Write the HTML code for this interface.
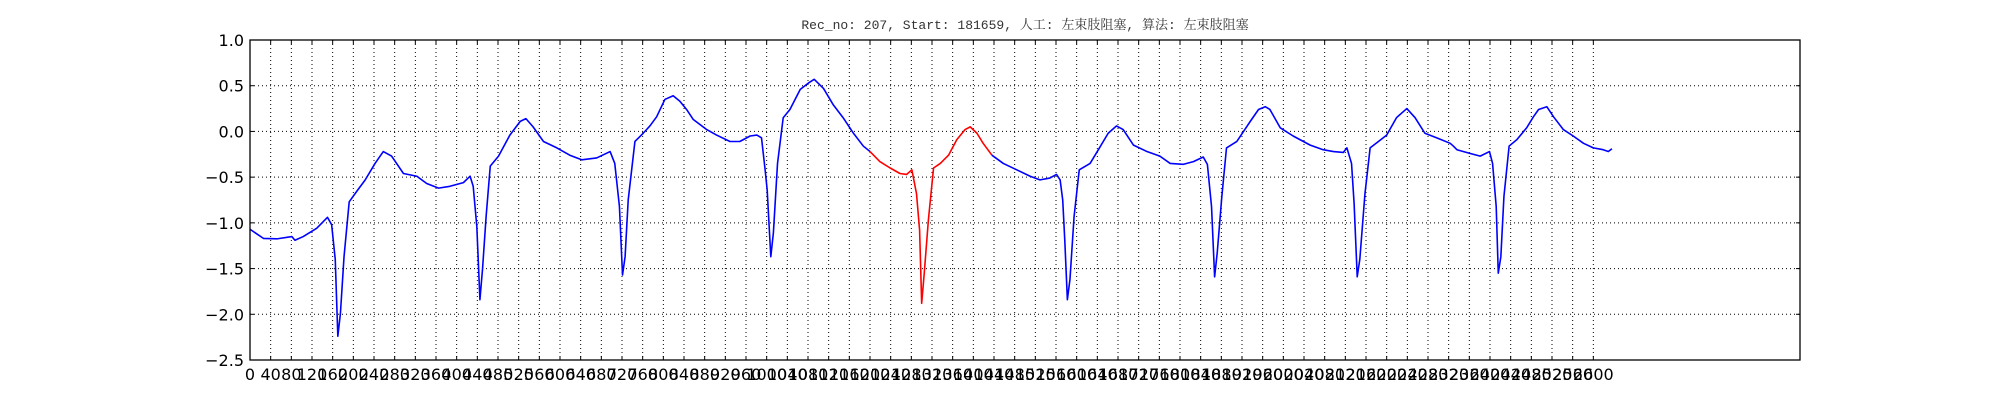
<!DOCTYPE html>
<html><head><meta charset="utf-8"><style>
body{margin:0;background:#fff;}
svg{display:block;}
</style></head><body>
<svg id="chart" width="2000" height="400" xmlns="http://www.w3.org/2000/svg">
<rect x="0" y="0" width="2000" height="400" fill="#fff"/>
<text x="1025" y="29" text-anchor="middle" font-family="'Liberation Mono','Noto Serif CJK SC',monospace" font-size="13" fill="#333">Rec_no: 207, Start: 181659, 人工: 左束肢阻塞, 算法: 左束肢阻塞</text>
<g id="grid"></g>
<g id="series"></g>
<rect x="250" y="40" width="1550" height="320" fill="none" stroke="#000" stroke-width="1.3"/>
<g id="axes"></g>
</svg>
<script>
const xTicks = [];
for (let t = 0; t <= 2600; t += 40) xTicks.push(t);
const yTicks = [1.0, 0.5, 0.0, -0.5, -1.0, -1.5, -2.0, -2.5];
const yTickLabels = ["1.0","0.5","0.0","\u22120.5","\u22121.0","\u22121.5","\u22122.0","\u22122.5"];
const sampleIdx = [0,26,52,81,87,103,129,150,158,165,170,175,182,192,206,223,242,258,274,297,323,342,365,387,413,426,432,439,445,450,457,465,481,503,523,534,548,568,594,619,642,671,697,706,715,721,726,732,745,761,774,
787,803,819,832,845,858,884,903,929,948,968,981,990,997,1001,1008,1013,1021,1032,1045,1065,1081,1092,1110,1129,1148,1168,1187,1200,1219,1239,1258,1271,1281,1290,1296,1300,1305,1313,1323,1336,1352,1368,1384,1394,1407,1419,1436,1458,1484,1510,1529,1548,
1561,1568,1573,1577,1582,1587,1595,1605,1626,1642,1661,1677,1690,1710,1736,1761,1781,1806,1826,1845,1853,1861,1867,1872,1881,1890,1910,1936,1952,1965,1974,1994,2019,2052,2077,2097,2116,2123,2132,2137,2143,2148,2158,2168,2184,2200,2219,2239,2255,2274,2297,2323,
2329,2336,2361,2381,2399,2405,2412,2416,2421,2427,2437,2452,2471,2484,2494,2510,2523,2542,2561,2581,2600,2619,2629,2636];
const ecgValues = [-1.07,-1.17,-1.175,-1.15,-1.19,-1.15,-1.06,-0.94,-1.02,-1.40,-2.24,-1.99,-1.37,-0.77,-0.66,-0.53,-0.35,-0.22,-0.27,-0.46,-0.49,-0.57,-0.62,-0.60,-0.56,-0.49,-0.60,-1.04,-1.84,-1.51,-0.93,-0.38,-0.27,-0.04,0.11,0.14,0.05,-0.11,-0.18,-0.26,-0.31,-0.29,-0.22,-0.35,-0.82,-1.57,-1.37,-0.75,-0.11,-0.02,0.06,
0.16,0.35,0.39,0.33,0.24,0.13,0.02,-0.04,-0.11,-0.11,-0.05,-0.04,-0.07,-0.42,-0.64,-1.37,-1.11,-0.35,0.15,0.24,0.46,0.53,0.57,0.47,0.29,0.15,-0.02,-0.16,-0.22,-0.33,-0.40,-0.46,-0.47,-0.42,-0.68,-1.08,-1.88,-1.55,-0.97,-0.40,-0.35,-0.26,-0.09,0.02,0.05,-0.02,-0.13,-0.26,-0.35,-0.42,-0.49,-0.53,-0.51,
-0.47,-0.53,-0.75,-1.19,-1.84,-1.62,-0.93,-0.42,-0.35,-0.20,-0.02,0.06,0.02,-0.15,-0.22,-0.27,-0.35,-0.36,-0.33,-0.28,-0.36,-0.82,-1.59,-1.33,-0.71,-0.18,-0.11,0.11,0.24,0.27,0.24,0.04,-0.05,-0.15,-0.20,-0.22,-0.23,-0.18,-0.35,-0.79,-1.59,-1.40,-0.68,-0.18,-0.11,-0.04,0.15,0.25,0.15,-0.02,-0.07,-0.13,
-0.16,-0.20,-0.24,-0.27,-0.22,-0.35,-0.82,-1.55,-1.37,-0.71,-0.16,-0.09,0.04,0.16,0.24,0.27,0.16,0.02,-0.05,-0.13,-0.18,-0.20,-0.22,-0.19];
const redStart = 1200, redEnd = 1436;

const X0=250, X1=1800, Y0=40, Y1=360, XMAX=3000, YMIN=-2.5, YMAX=1.0;
const sx = v => X0 + v/XMAX*(X1-X0);
const sy = v => Y1 - (v-YMIN)/(YMAX-YMIN)*(Y1-Y0);
const NS="http://www.w3.org/2000/svg";
const grid=document.getElementById('grid'), axes=document.getElementById('axes'), series=document.getElementById('series');
function mk(tag, parent){const e=document.createElementNS(NS,tag);parent.appendChild(e);return e;}

xTicks.forEach(t=>{
  const x=sx(t);
  if(t>0){const g=mk('line',grid);
  
  
  g.setAttribute('x1',x);g.setAttribute('x2',x);g.setAttribute('y1',Y0);g.setAttribute('y2',Y1);
  g.setAttribute('stroke','#000');g.setAttribute('stroke-width','1');g.setAttribute('stroke-dasharray','1,3');}
  [[Y1,Y1-4],[Y0,Y0+4]].forEach(p=>{const m=mk('line',axes);
  
  
  m.setAttribute('x1',x);m.setAttribute('x2',x);m.setAttribute('y1',p[0]);m.setAttribute('y2',p[1]);m.setAttribute('stroke','#000');});
  const l=mk('text',axes);
  
  
  l.setAttribute('x',x);l.setAttribute('y',380);l.setAttribute('text-anchor','middle');
  l.setAttribute('font-family','"DejaVu Sans","Liberation Sans",sans-serif');l.setAttribute('font-size','16');
  l.textContent=String(t);
});
yTicks.forEach((t,i)=>{
  const y=sy(t);
  if(t<YMAX && t>YMIN){const g=mk('line',grid);
  
  
  g.setAttribute('x1',X0);g.setAttribute('x2',X1);g.setAttribute('y1',y);g.setAttribute('y2',y);
  g.setAttribute('stroke','#000');g.setAttribute('stroke-width','1');g.setAttribute('stroke-dasharray','1,3');}
  [[X0,X0+4],[X1,X1-4]].forEach(p=>{const m=mk('line',axes);
  
  
  m.setAttribute('x1',p[0]);m.setAttribute('x2',p[1]);m.setAttribute('y1',y);m.setAttribute('y2',y);m.setAttribute('stroke','#000');});
  const l=mk('text',axes);
  
  
  l.setAttribute('x',244);l.setAttribute('y',y+6);l.setAttribute('text-anchor','end');
  l.setAttribute('font-family','"DejaVu Sans","Liberation Sans",sans-serif');l.setAttribute('font-size','16');
  l.textContent=yTickLabels[i];
});

function seg(filter){
  const pts=[];
  sampleIdx.forEach((s,i)=>{if(filter(s))pts.push(sx(s).toFixed(2)+','+sy(ecgValues[i]).toFixed(2));});
  return pts.join(' ');
}
const blue1=mk('polyline',series);


blue1.setAttribute('points',seg(s=>s<=redStart));
const red=mk('polyline',series);


red.setAttribute('points',seg(s=>s>=redStart&&s<=redEnd));
const blue2=mk('polyline',series);


blue2.setAttribute('points',seg(s=>s>=redEnd));
[[blue1,'#0000ff'],[red,'#ff0000'],[blue2,'#0000ff']].forEach(([e,c])=>{
  e.setAttribute('fill','none');e.setAttribute('stroke',c);e.setAttribute('stroke-width','1.6');e.setAttribute('stroke-linejoin','round');
});
</script>
</body></html>
